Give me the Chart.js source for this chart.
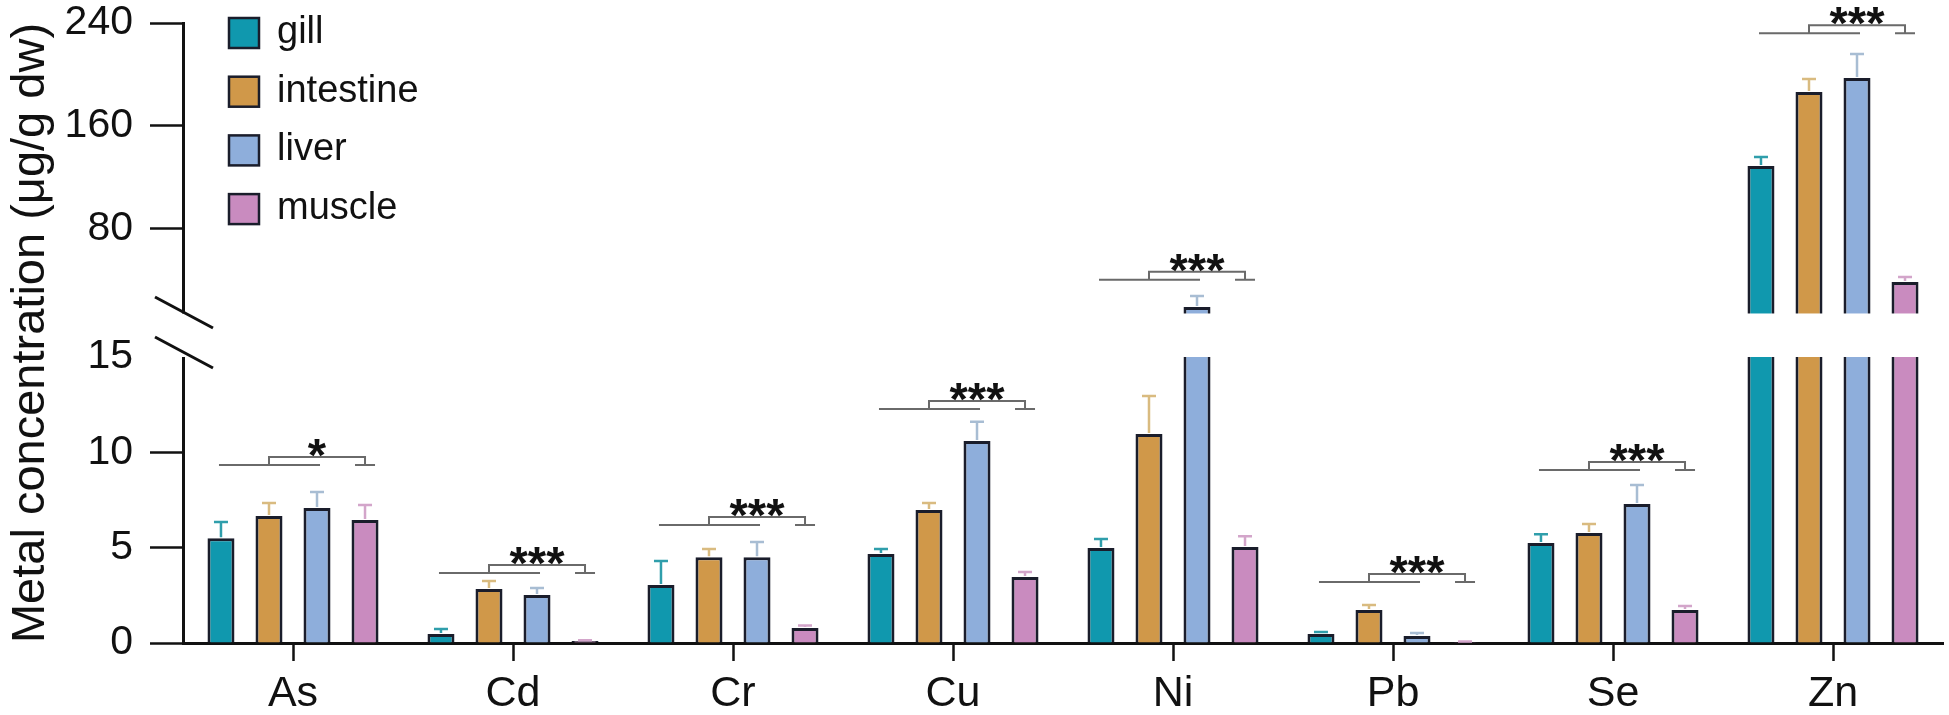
<!DOCTYPE html>
<html>
<head>
<meta charset="utf-8">
<title>Metal concentration by tissue</title>
<script src="https://cdn.jsdelivr.net/npm/chart.js@4.4.0/dist/chart.umd.min.js"></script>
<style>
  html, body { margin: 0; padding: 0; background: #fff; }
  #wrap { position: relative; width: 1949px; height: 715px; }
</style>
</head>
<body>
<div id="wrap"><canvas id="chart" width="1949" height="715"></canvas></div>
<script>
// Data (mean and upper SD per tissue)
const metals = ['As', 'Cd', 'Cr', 'Cu', 'Ni', 'Pb', 'Se', 'Zn'];
const tissues = ['gill', 'intestine', 'liver', 'muscle'];

const gillMean = [5.50, 0.47, 3.04, 4.67, 4.98, 0.47, 5.24, 128.7];
const gillSd = [0.85, 0.26, 1.26, 0.26, 0.47, 0.11, 0.46, 7.0];
const intestineMean = [6.66, 2.83, 4.50, 6.97, 10.96, 1.73, 5.77, 186.3];
const intestineSd = [0.68, 0.42, 0.43, 0.37, 1.99, 0.26, 0.47, 10.1];
const liverMean = [7.08, 2.52, 4.50, 10.60, 18.9, 0.37, 7.29, 197.2];
const liverSd = [0.84, 0.36, 0.80, 1.00, 8.6, 0.15, 0.99, 18.7];
const muscleMean = [6.45, 0.10, 0.79, 3.46, 5.03, 0.05, 1.73, 38.4];
const muscleSd = [0.79, 0.05, 0.13, 0.26, 0.57, 0.03, 0.21, 3.9];

// significance marks: text and the height of the comparison line
const sigLabels = ['*', '***', '***', '***', '***', '***', '***', '***'];
const sigLevels = [9.33, 3.67, 6.19, 12.27, 40, 3.2, 9.07, 232];

// broken y axis: 0-15 below the break, 15-240 above it
const yTicks = [0, 5, 10, 15, 80, 160, 240];
const BREAK_AT = 15;

const fillColors = ['#1098ae', '#d09849', '#8eaedb', '#c98bbf'];
const errColors = ['#2f9eab', '#d9bb80', '#a8bdd3', '#d3a5ca'];
const edgeColor = '#1a1d2b';
const FONT = "'Liberation Sans', Arial, sans-serif";

Chart.defaults.font.family = FONT;
Chart.defaults.color = '#111';

// Linear scale with two linear pieces and a gap between them
class BrokenScale extends Chart.LinearScale {
  static id = 'broken';
  segs() {
    const o = this.options, h = this.bottom - this.top;
    const lowH = h * o.lowerFrac, gapH = h * o.gapFrac;
    return { lowH, gapH, upH: h - lowH - gapH, brk: o.breakAt };
  }
  getPixelForValue(value) {
    if (value === null || value === undefined) return NaN;
    const s = this.segs();
    if (value <= s.brk) return this.bottom - (value - this.min) / (s.brk - this.min) * s.lowH;
    return this.top + s.upH - (value - s.brk) / (this.max - s.brk) * s.upH;
  }
  getValueForPixel(pixel) {
    const s = this.segs();
    if (pixel >= this.bottom - s.lowH) return this.min + (this.bottom - pixel) / s.lowH * (s.brk - this.min);
    return s.brk + (this.top + s.upH - pixel) / s.upH * (this.max - s.brk);
  }
}
Chart.register(BrokenScale);

const means = [gillMean, intestineMean, liverMean, muscleMean];
const sds = [gillSd, intestineSd, liverSd, muscleSd];

// gap, axis break marks, error bars, significance brackets, legend
const decor = {
  id: 'decor',
  afterDatasetsDraw(chart) {
    const { ctx, chartArea: a, scales: { y } } = chart;
    const s = y.segs();
    const lowTop = y.getPixelForValue(BREAK_AT);
    const upBottom = lowTop - s.gapH;

    ctx.save();
    ctx.fillStyle = '#fff';
    ctx.fillRect(a.left - 4, upBottom + 1.5, a.right - a.left + 8, lowTop - upBottom - 1.5);

    // break slashes on the y axis
    ctx.strokeStyle = '#111';
    ctx.lineWidth = 3;
    ctx.beginPath();
    ctx.moveTo(a.left - 28, upBottom - 15);
    ctx.lineTo(a.left + 30, upBottom + 16);
    ctx.moveTo(a.left - 28, lowTop - 20);
    ctx.lineTo(a.left + 30, lowTop + 11);
    ctx.stroke();

    // upper error bars
    ctx.lineWidth = 2.5;
    means.forEach((m, d) => {
      const meta = chart.getDatasetMeta(d);
      ctx.strokeStyle = errColors[d];
      m.forEach((v, i) => {
        const bar = meta.data[i];
        const ey = y.getPixelForValue(v + sds[d][i]);
        ctx.beginPath();
        ctx.moveTo(bar.x, bar.y - 1);
        ctx.lineTo(bar.x, ey);
        ctx.moveTo(bar.x - 7, ey);
        ctx.lineTo(bar.x + 7, ey);
        ctx.stroke();
      });
    });

    // significance brackets
    ctx.strokeStyle = '#6a6a6a';
    ctx.lineWidth = 2;
    ctx.fillStyle = '#111';
    ctx.font = 'bold 47px ' + FONT;
    ctx.textAlign = 'center';
    ctx.textBaseline = 'alphabetic';
    metals.forEach((name, i) => {
      const xs = tissues.map((t, d) => chart.getDatasetMeta(d).data[i].x);
      const yb = y.getPixelForValue(sigLevels[i]);
      const yt = yb - 8;
      ctx.beginPath();
      ctx.moveTo(xs[0] - 2, yb);
      ctx.lineTo(xs[2] + 3, yb);
      ctx.moveTo(xs[1], yb);
      ctx.lineTo(xs[1], yt);
      ctx.lineTo(xs[3], yt);
      ctx.lineTo(xs[3], yb);
      ctx.moveTo(xs[3] - 10, yb);
      ctx.lineTo(xs[3] + 10, yb);
      ctx.stroke();
      ctx.fillText(sigLabels[i], (xs[1] + xs[3]) / 2, yb + 6);
    });

    // legend in the top-left corner
    ctx.font = '38px ' + FONT;
    ctx.textAlign = 'left';
    chart.data.datasets.forEach((ds, d) => {
      const by = 18 + d * 58.7;
      ctx.fillStyle = ds.backgroundColor;
      ctx.fillRect(229, by, 30, 30);
      ctx.strokeStyle = edgeColor;
      ctx.lineWidth = 2.5;
      ctx.strokeRect(229, by, 30, 30);
      ctx.fillStyle = '#111';
      ctx.fillText(ds.label, 277, by + 25);
    });
    ctx.restore();
  }
};

new Chart(document.getElementById('chart'), {
  type: 'bar',
  data: {
    labels: metals,
    datasets: tissues.map((t, d) => ({
      label: t,
      data: means[d],
      backgroundColor: fillColors[d],
      borderColor: edgeColor,
      borderWidth: 3,
      categoryPercentage: 0.873,
      barPercentage: 0.5625
    }))
  },
  options: {
    responsive: false,
    animation: false,
    events: [],
    layout: { padding: { left: 0, top: 23, right: 6, bottom: 0 } },
    plugins: { legend: { display: false }, tooltip: { enabled: false } },
    scales: {
      x: {
        offset: true,
        grid: { offset: false, drawOnChartArea: false, drawTicks: true, tickLength: 18, tickColor: '#111', tickWidth: 2.5 },
        border: { color: '#111', width: 3 },
        ticks: { font: { size: 43 }, color: '#111', padding: 7, maxRotation: 0 },
        afterFit: s => { s.height = 72; }
      },
      y: {
        type: 'broken',
        min: 0,
        max: 240,
        breakAt: BREAK_AT,
        lowerFrac: 0.4613,
        gapFrac: 0.0726,
        afterBuildTicks: s => { s.ticks = yTicks.map(v => ({ value: v })); },
        // fixed axis width; let the top label hang over the padding
        afterFit: s => { s.width = 183; s.paddingTop = 0; s.paddingBottom = 0; },
        grid: {
          drawOnChartArea: false,
          drawTicks: true,
          tickLength: 33,
          tickWidth: 2.5,
          tickColor: c => (c.tick && c.tick.value === BREAK_AT ? 'rgba(0,0,0,0)' : '#111')
        },
        border: { color: '#111', width: 3 },
        ticks: { autoSkip: false, font: { size: 41 }, color: '#111', padding: 17 },
        title: {
          display: true,
          text: 'Metal concentration (μg/g dw)',
          font: { size: 47 },
          color: '#111',
          padding: { top: 3, bottom: 0 }
        }
      }
    }
  },
  plugins: [decor]
});
</script>
</body>
</html>
